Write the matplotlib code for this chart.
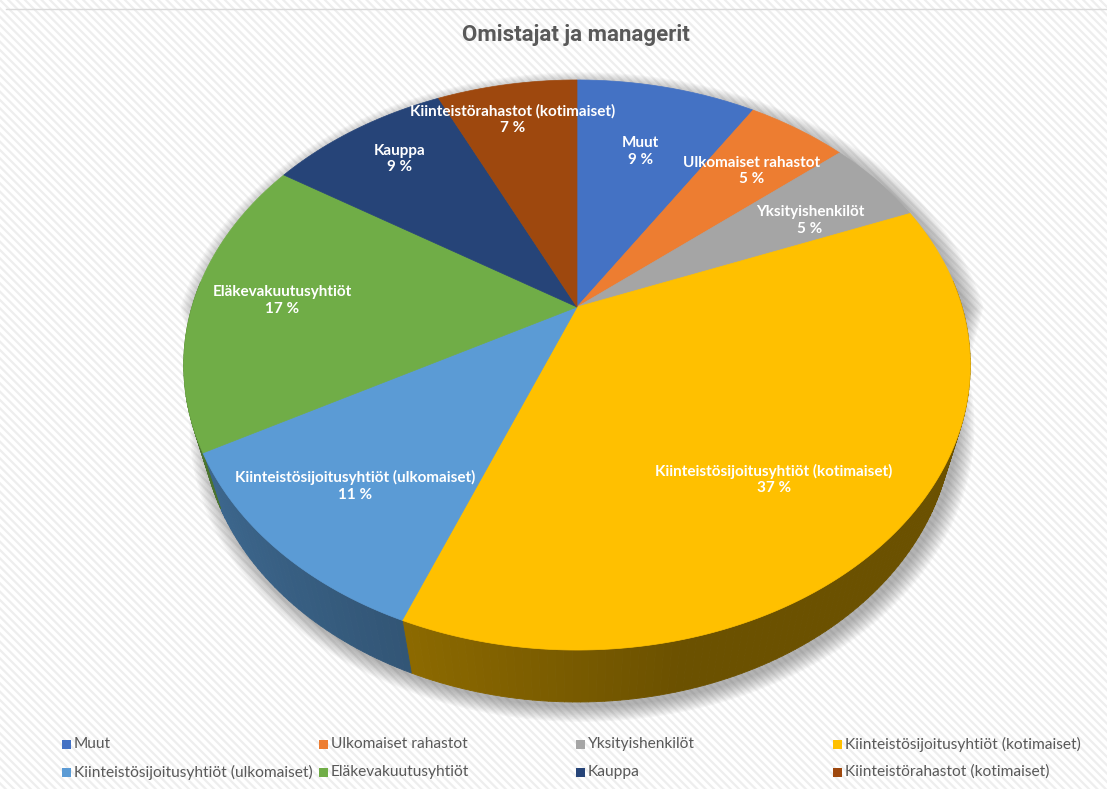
import numpy as np
import matplotlib
matplotlib.use('Agg')
import matplotlib.pyplot as plt
from matplotlib.patches import Polygon, Rectangle
from matplotlib.collections import PolyCollection

# data
labels = ['Muut', 'Ulkomaiset rahastot', 'Yksityishenkilöt',
          'Kiinteistösijoitusyhtiöt (kotimaiset)', 'Kiinteistösijoitusyhtiöt (ulkomaiset)',
          'Eläkevakuutusyhtiöt', 'Kauppa', 'Kiinteistörahastot (kotimaiset)']
values = [9, 5, 5, 37, 11, 17, 9, 7]
colors = ['#4472C4', '#ED7D31', '#A5A5A5', '#FFC000', '#5B9BD5', '#70AD47', '#264478', '#9E480E']
title = 'Omistajat ja managerit'

W, H = 1107, 789
fig = plt.figure(figsize=(W / 100, H / 100), dpi=100)
ax = fig.add_axes([0, 0, 1, 1])
ax.set_xlim(0, W)
ax.set_ylim(H, 0)
ax.axis('off')

# striped background
plt.rcParams['hatch.linewidth'] = 1.6
ax.add_patch(Rectangle((0, 0), W, H, facecolor='white', edgecolor='#eeeeee',
                       hatch='\\\\\\\\', lw=0, zorder=0))
ax.plot([6, W], [9, 9], color='#d9d9d9', lw=1, zorder=1)

# perspective projection of a disc (theta clockwise from the far point)
cx, cy = 577, 307
s, c = 0.7096, 0.7046
D, f, h = 3.462, 1333, 0.2175


def proj(theta, r=1.0, z=0.0):
    x = r * np.sin(theta)
    y = r * np.cos(theta)
    yp = y * s + z * c
    d = D + y * c - z * s
    return cx + f * x / d, cy - f * yp / d


fracs = np.array(values, dtype=float) / sum(values)
edges = np.concatenate([[0], np.cumsum(fracs)]) * 2 * np.pi

# soft shadow around the silhouette
tt = np.linspace(0, 2 * np.pi, 720)
topx, topy = proj(tt)
botx, boty = proj(tt, z=-h)
back = np.cos(tt) >= 0
silx = np.where(back, topx, botx)
sily = np.where(back, topy, boty)
for k in range(12):
    g = 1 + 0.004 * k
    px = cx + (silx - cx) * g + 5
    py = cy + 60 + (sily - cy - 60) * g + 5
    ax.add_patch(Polygon(np.column_stack([px, py]), closed=True, facecolor='#505050',
                         edgecolor='none', alpha=0.045, zorder=2))

# side walls
quads, qcols = [], []
for i in range(len(values)):
    a0, a1 = edges[i], edges[i + 1]
    n = max(2, int(np.degrees(a1 - a0)))
    aa = np.linspace(a0, a1, n + 1)
    base = np.array(matplotlib.colors.to_rgb(colors[i]))
    for j in range(n):
        m = 0.5 * (aa[j] + aa[j + 1])
        if np.cos(m) > 0.1:
            continue
        x0, y0 = proj(aa[j])
        x1, y1 = proj(aa[j + 1])
        x2, y2 = proj(aa[j + 1], z=-h)
        x3, y3 = proj(aa[j], z=-h)
        quads.append([(x0, y0), (x1, y1), (x2, y2), (x3, y3)])
        k = max(0.42, 0.47 - 0.22 * np.sin(m))
        qcols.append(tuple(base * k))
ax.add_collection(PolyCollection(quads, facecolors=qcols, edgecolors=qcols,
                                 linewidths=0.6, zorder=3))

# top faces
for i in range(len(values)):
    aa = np.linspace(edges[i], edges[i + 1], 200)
    xs, ys = proj(aa)
    pts = np.column_stack([np.concatenate([[cx], xs]), np.concatenate([[cy], ys])])
    ax.add_patch(Polygon(pts, closed=True, facecolor=colors[i], edgecolor=colors[i],
                         lw=0.5, zorder=4))

# data labels
lab_r = [0.67, 0.75, 0.73, 0.72, 0.77, 0.77, 0.80, 0.82]
lab_da = [0, 1, 3, 6, 0, 0, 1, -1]
for i in range(len(values)):
    m = 0.5 * (edges[i] + edges[i + 1]) + np.radians(lab_da[i])
    lx, ly = proj(m, lab_r[i])
    ax.text(lx, ly, '%s\n%d %%' % (labels[i], values[i]), ha='center', va='center',
            color='white', fontsize=11, fontweight='bold', family=['Lato', 'DejaVu Sans'],
            linespacing=1.25, zorder=6)

# title
ax.text(576, 35, title, ha='center', va='center', fontsize=16, fontweight='bold',
        color='#595959', family=['Roboto', 'DejaVu Sans'], zorder=6)

# legend
for i in range(len(values)):
    col, row = i % 4, i // 4
    lx = 66 + col * 257
    ly = 744 + row * 28
    ax.add_patch(Rectangle((lx - 4, ly - 4.5), 9, 9, facecolor=colors[i], lw=0, zorder=6))
    ax.text(lx + 8, ly, labels[i], ha='left', va='center', fontsize=11.2, color='#595959',
            family=['Lato', 'DejaVu Sans'], zorder=6)

fig.savefig('out.png', dpi=100)
